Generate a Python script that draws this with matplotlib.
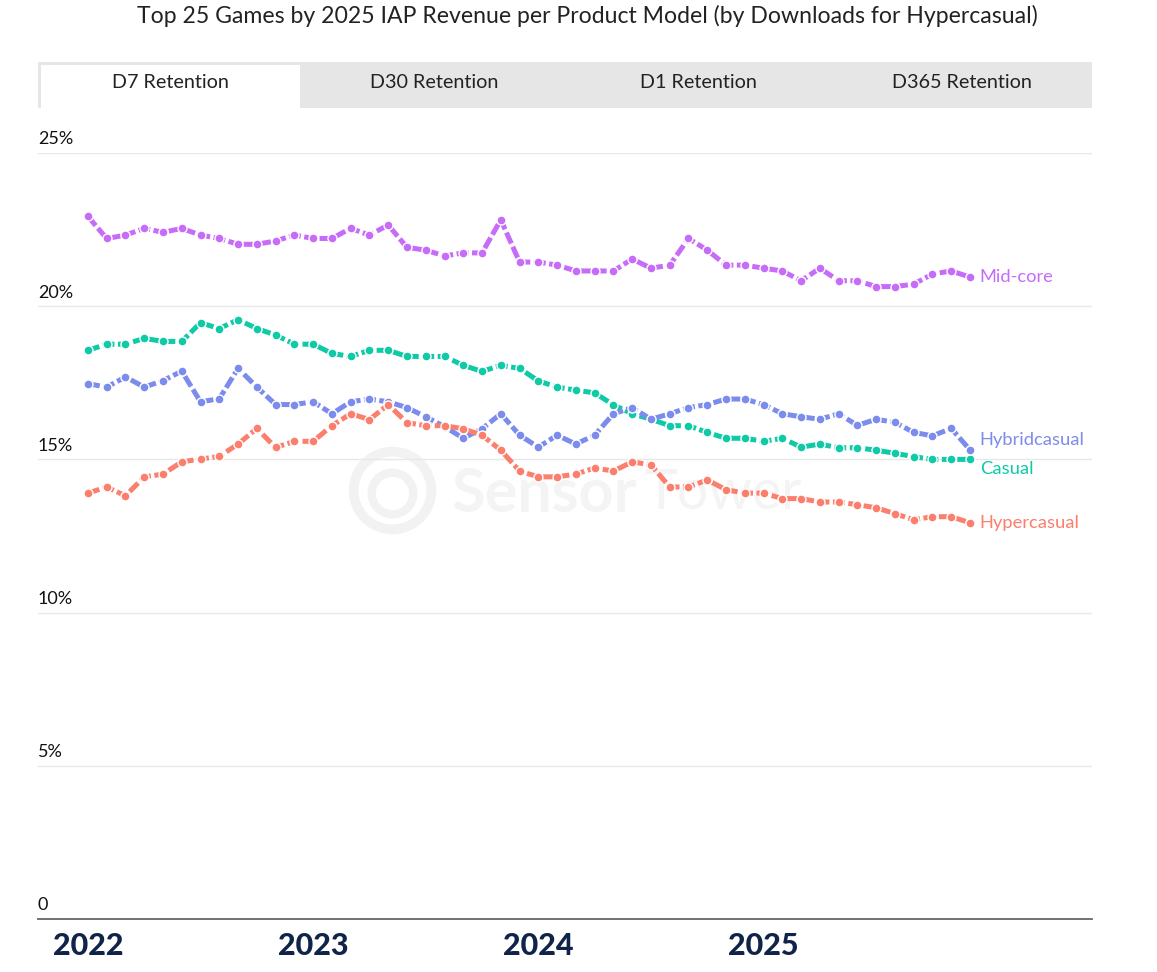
import matplotlib.pyplot as plt
import matplotlib.transforms as mtransforms
from matplotlib.patches import Rectangle
import numpy as np

# monthly D7 retention, Jan 2022 - Dec 2025 (%)
months = np.arange(48)
year_ticks = [0, 12, 24, 36]
year_labels = ['2022', '2023', '2024', '2025']
tabs = ['D7 Retention', 'D30 Retention', 'D1 Retention', 'D365 Retention']

mid_core = [22.93, 22.21, 22.32, 22.54, 22.41, 22.54, 22.32, 22.21, 22.02, 22.02,
            22.13, 22.32, 22.21, 22.21, 22.54, 22.32, 22.65, 21.92, 21.83, 21.64,
            21.74, 21.74, 22.82, 21.44, 21.44, 21.34, 21.15, 21.15, 21.15, 21.54,
            21.24, 21.34, 22.21, 21.83, 21.34, 21.34, 21.24, 21.15, 20.83, 21.24,
            20.83, 20.83, 20.64, 20.64, 20.72, 21.05, 21.15, 20.95]
casual = [18.56, 18.76, 18.76, 18.95, 18.85, 18.85, 19.46, 19.27, 19.56, 19.27,
          19.06, 18.76, 18.76, 18.46, 18.36, 18.56, 18.56, 18.36, 18.36, 18.36,
          18.07, 17.87, 18.07, 17.97, 17.56, 17.36, 17.26, 17.17, 16.78, 16.49,
          16.31, 16.10, 16.10, 15.88, 15.69, 15.69, 15.59, 15.69, 15.40, 15.50,
          15.38, 15.38, 15.30, 15.20, 15.09, 15.00, 15.00, 15.00]
hybridcasual = [17.47, 17.36, 17.69, 17.36, 17.57, 17.88, 16.88, 16.98, 17.97, 17.36,
                16.79, 16.79, 16.88, 16.49, 16.88, 16.97, 16.88, 16.69, 16.39, 16.07,
                15.69, 16.00, 16.49, 15.79, 15.40, 15.79, 15.50, 15.79, 16.49, 16.69,
                16.31, 16.49, 16.69, 16.79, 16.97, 16.97, 16.79, 16.49, 16.39, 16.31,
                16.49, 16.11, 16.31, 16.21, 15.88, 15.77, 16.01, 15.31]
hypercasual = [13.90, 14.10, 13.81, 14.43, 14.52, 14.92, 15.01, 15.10, 15.50, 16.01,
               15.39, 15.59, 15.59, 16.10, 16.49, 16.30, 16.79, 16.20, 16.10, 16.10,
               16.00, 15.79, 15.30, 14.62, 14.43, 14.43, 14.52, 14.72, 14.62, 14.92,
               14.82, 14.10, 14.10, 14.33, 14.01, 13.90, 13.90, 13.72, 13.72, 13.61,
               13.61, 13.52, 13.42, 13.23, 13.03, 13.13, 13.13, 12.93]

series = [
    ('Mid-core', mid_core, '#c66cf8', 0),
    ('Casual', casual, '#0ecaa6', -7),
    ('Hybridcasual', hybridcasual, '#7b8cec', 7),
    ('Hypercasual', hypercasual, '#fb7f6c', 0),
]

plt.rcParams['font.family'] = ['Lato', 'DejaVu Sans']

dpi = 100
fig = plt.figure(figsize=(1157 / dpi, 972 / dpi), dpi=dpi)
ax = fig.add_axes([38 / 1157, 53 / 972, 1054 / 1157, 766 / 972])

# title
fig.text(587 / 1157, 1 - 16 / 972,
         'Top 25 Games by 2025 IAP Revenue per Product Model (by Downloads for Hypercasual)',
         ha='center', va='center', fontsize=16.6, color='#222222')

# tab bar
fig.patches.append(Rectangle((38 / 1157, 1 - 108 / 972), 1054 / 1157, 46 / 972,
                             transform=fig.transFigure, facecolor='#e6e6e6',
                             edgecolor='none', zorder=0))
fig.patches.append(Rectangle((41 / 1157, 1 - 108 / 972), 259 / 1157, 43 / 972,
                             transform=fig.transFigure, facecolor='white',
                             edgecolor='none', zorder=1))
for i, t in enumerate(tabs):
    fig.text((170 + i * 264) / 1157, 1 - 83 / 972, t, ha='center', va='center',
             fontsize=14.2, color='#222222', zorder=2)

# watermark
ax.plot([16.2], [14.0], marker='o', markersize=56, markerfacecolor='none',
        markeredgecolor='#f2f2f2', markeredgewidth=7, zorder=0)
ax.plot([16.2], [13.9], marker='o', markersize=30, markerfacecolor='none',
        markeredgecolor='#f2f2f2', markeredgewidth=6, zorder=0)
ax.text(0.392, 0.555, 'Sensor', transform=ax.transAxes, fontsize=44, fontweight='bold',
        color='#f4f4f4', va='center', ha='left', zorder=0)
ax.text(0.575, 0.555, 'Tower', transform=ax.transAxes, fontsize=40,
        color='#f4f4f4', va='center', ha='left', zorder=0)

for name, vals, col, dy in series:
    ax.plot(months, vals, color=col, linewidth=3.6, linestyle=(0, (2.4, 0.7)),
            marker='o', markersize=6.5, markeredgecolor='white', markeredgewidth=1,
            zorder=3)
    ax.annotate(name, (months[-1], vals[-1]), xytext=(7, dy), textcoords='offset points',
                ha='left', va='center', fontsize=13.2, color=col)

ax.set_xlim(-2.66, 53.5)
ax.set_ylim(0, 25)

yticks = [0, 5, 10, 15, 20, 25]
ylabels = ['0', '5%', '10%', '15%', '20%', '25%']
for v, lab in zip(yticks, ylabels):
    if v > 0:
        ax.axhline(v, color='#e8e8e8', linewidth=1, zorder=1)
    ax.annotate(lab, (0, v), xycoords=mtransforms.blended_transform_factory(ax.transAxes, ax.transData),
                xytext=(0, 4), textcoords='offset points', ha='left', va='bottom',
                fontsize=13, color='#111111')
ax.set_yticks([])

ax.set_xticks(year_ticks)
ax.set_xticklabels(year_labels, fontsize=22, fontweight='black', color='#10244a')
ax.tick_params(axis='x', length=0, pad=9)

for s in ['top', 'right', 'left']:
    ax.spines[s].set_visible(False)
ax.spines['bottom'].set_color('#666666')
ax.spines['bottom'].set_linewidth(1.3)

plt.savefig('out.png', dpi=dpi)
